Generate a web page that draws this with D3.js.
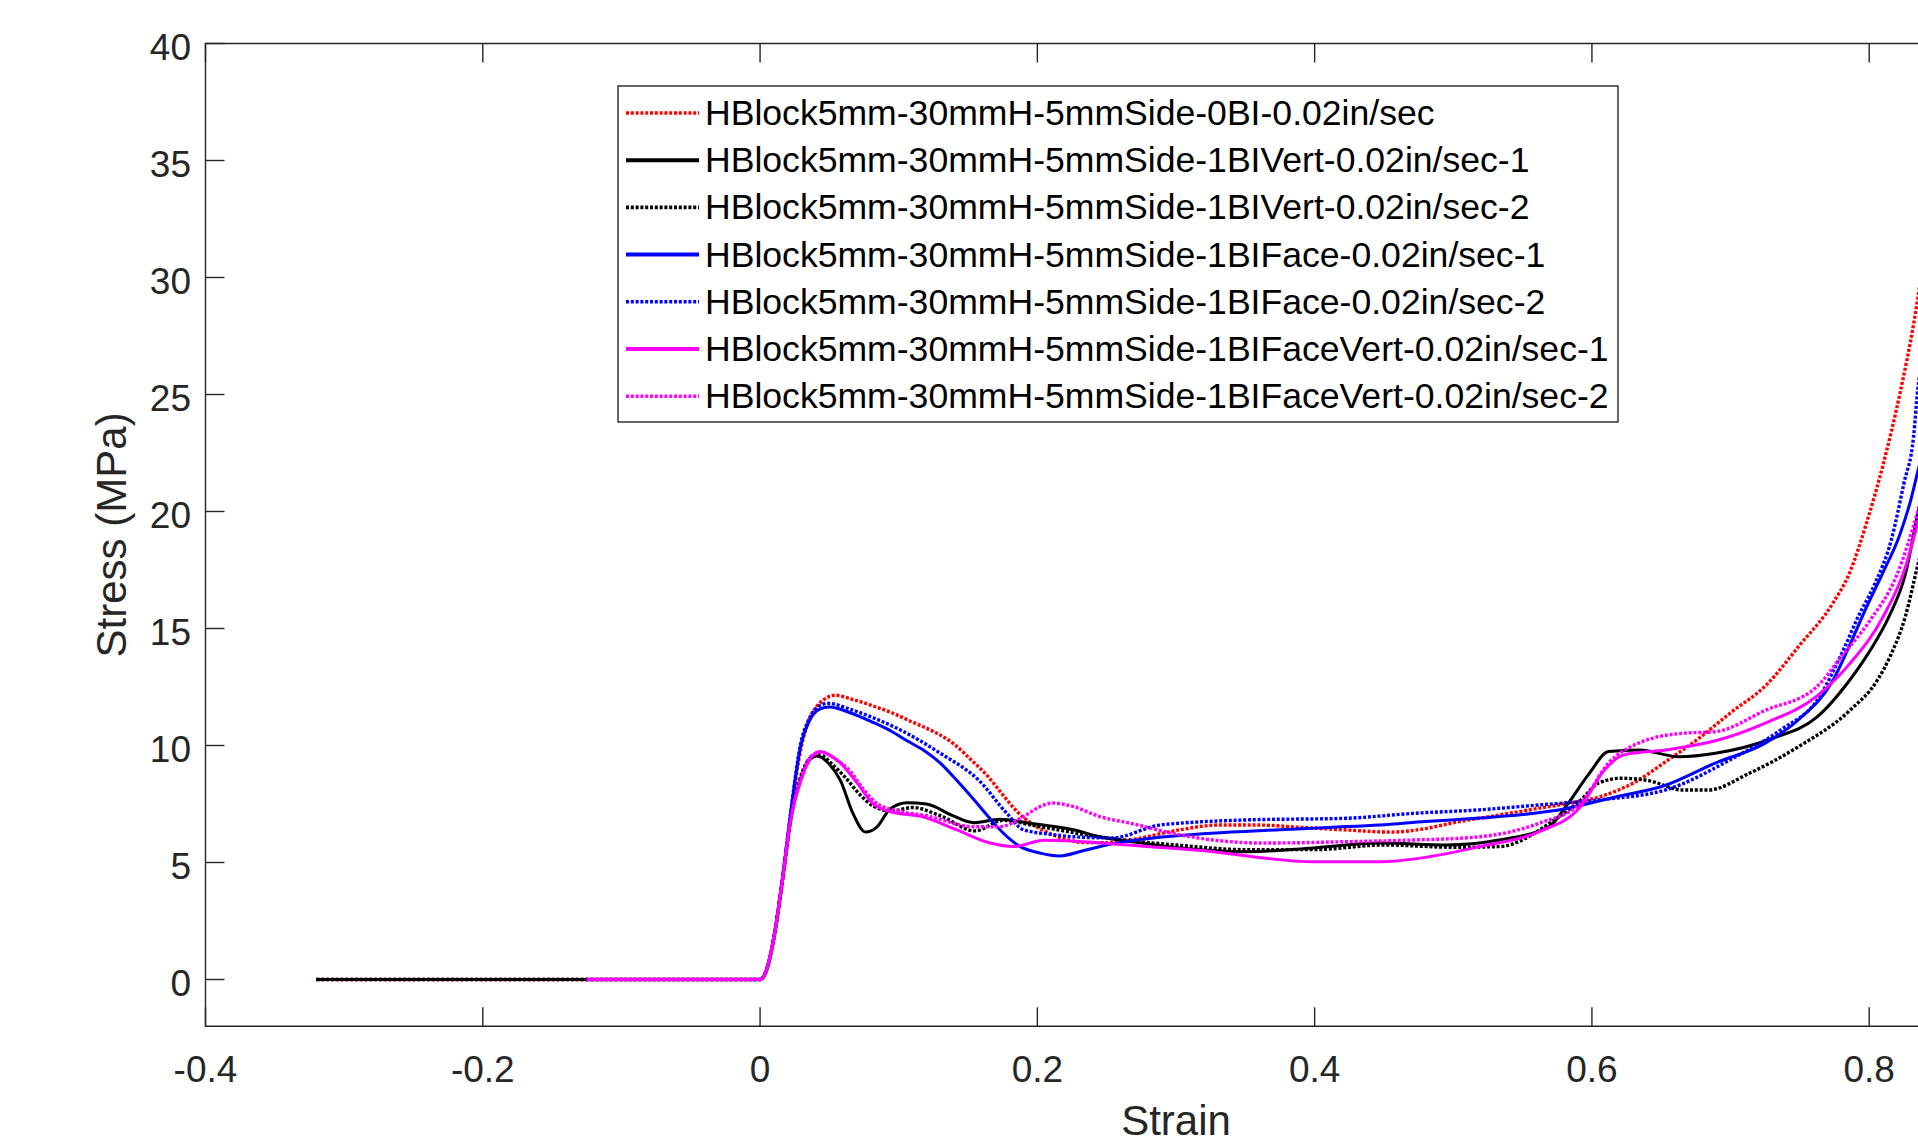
<!DOCTYPE html>
<meta charset="utf-8">
<style>
body { margin: 0; background: #fff; }
svg { display: block; }
.axis-line { stroke: #262626; stroke-width: 1.4px; fill: none; }
.tick-label { font-family: "Liberation Sans", Arial, sans-serif; font-size: 37px; fill: #262626; }
.axis-title { font-family: "Liberation Sans", Arial, sans-serif; font-size: 42px; fill: #262626; }
.legend-text { font-family: "Liberation Sans", Arial, sans-serif; font-size: 35.6px; fill: #000; }
</style>
<svg width="1918" height="1143"></svg>
<script src="https://d3js.org/d3.v7.min.js"></script>
<script>
// series names / styles (legend order = draw order)
var seriesNames = [
  "HBlock5mm-30mmH-5mmSide-0BI-0.02in/sec",
  "HBlock5mm-30mmH-5mmSide-1BIVert-0.02in/sec-1",
  "HBlock5mm-30mmH-5mmSide-1BIVert-0.02in/sec-2",
  "HBlock5mm-30mmH-5mmSide-1BIFace-0.02in/sec-1",
  "HBlock5mm-30mmH-5mmSide-1BIFace-0.02in/sec-2",
  "HBlock5mm-30mmH-5mmSide-1BIFaceVert-0.02in/sec-1",
  "HBlock5mm-30mmH-5mmSide-1BIFaceVert-0.02in/sec-2"
];
var seriesColors = ["#ff0000", "#000000", "#000000", "#0000ff", "#0000ff", "#ff00ff", "#ff00ff"];
var seriesDotted = [true, false, true, false, true, false, true];

// [strain, stress (MPa)]
var noBI = [[-0.32,0],[-0.2,0],[0,0],[0.004,0.3],[0.01,1.8],[0.016,4.1],[0.022,6.9],[0.028,9.4],[0.034,10.9],[0.04,11.6],[0.047,12.0],[0.054,12.15],[0.065,12.0],[0.081,11.7],[0.095,11.4],[0.11,11.0],[0.125,10.6],[0.139,10.1],[0.152,9.4],[0.164,8.7],[0.175,7.9],[0.185,7.2],[0.195,6.7],[0.205,6.35],[0.22,6.0],[0.235,5.85],[0.25,5.85],[0.27,6.0],[0.303,6.4],[0.33,6.6],[0.36,6.6],[0.39,6.5],[0.42,6.4],[0.455,6.3],[0.48,6.45],[0.5,6.7],[0.53,7.0],[0.56,7.3],[0.58,7.5],[0.605,7.8],[0.63,8.4],[0.653,9.3],[0.677,10.3],[0.7,11.4],[0.726,12.6],[0.75,14.3],[0.774,16.1],[0.786,17.4],[0.798,19.5],[0.81,22.0],[0.822,25.0],[0.832,28.0],[0.84,31],[0.85,34.5]];
var vert1 = [[-0.32,0],[-0.2,0],[0,0],[0.004,0.3],[0.01,1.8],[0.016,4.2],[0.022,6.8],[0.03,8.7],[0.036,9.4],[0.041,9.55],[0.05,9.2],[0.058,8.5],[0.067,7.1],[0.076,6.3],[0.084,6.5],[0.094,7.3],[0.106,7.55],[0.12,7.5],[0.139,7.0],[0.154,6.7],[0.173,6.85],[0.192,6.7],[0.226,6.4],[0.245,6.1],[0.267,5.9],[0.303,5.62],[0.351,5.46],[0.399,5.62],[0.447,5.83],[0.495,5.75],[0.533,5.96],[0.569,6.53],[0.583,7.54],[0.598,8.8],[0.612,9.74],[0.634,9.81],[0.663,9.52],[0.689,9.67],[0.73,10.3],[0.762,11.2],[0.786,12.8],[0.8,14.0],[0.815,15.6],[0.826,17.3],[0.835,19.9],[0.85,24]];
var vert2 = [[-0.32,0],[-0.2,0],[0,0],[0.004,0.3],[0.01,1.8],[0.016,4.2],[0.022,6.8],[0.03,8.8],[0.037,9.5],[0.043,9.6],[0.052,9.2],[0.062,8.6],[0.072,7.9],[0.082,7.4],[0.095,7.2],[0.11,7.35],[0.13,7.0],[0.155,6.35],[0.175,6.8],[0.2,6.55],[0.25,6.05],[0.3,5.75],[0.35,5.55],[0.4,5.55],[0.45,5.75],[0.5,5.65],[0.533,5.68],[0.573,6.82],[0.592,7.67],[0.605,8.4],[0.621,8.6],[0.641,8.5],[0.665,8.1],[0.684,8.1],[0.713,8.8],[0.749,9.95],[0.786,11.5],[0.806,12.8],[0.815,13.8],[0.826,15.5],[0.835,17.7],[0.85,21]];
var face1 = [[-0.125,0],[0,0],[0.004,0.3],[0.01,1.8],[0.016,4.25],[0.022,7.1],[0.029,9.9],[0.036,11.1],[0.043,11.55],[0.05,11.65],[0.065,11.4],[0.081,11.0],[0.095,10.6],[0.106,10.2],[0.118,9.8],[0.13,9.25],[0.142,8.5],[0.154,7.7],[0.164,7.0],[0.173,6.4],[0.187,5.7],[0.202,5.4],[0.216,5.28],[0.233,5.5],[0.25,5.75],[0.27,5.95],[0.303,6.15],[0.34,6.3],[0.375,6.4],[0.41,6.5],[0.447,6.6],[0.48,6.75],[0.519,6.9],[0.55,7.05],[0.581,7.3],[0.617,7.8],[0.653,8.3],[0.689,9.25],[0.725,10.1],[0.749,11.1],[0.774,12.8],[0.786,14.3],[0.798,15.9],[0.81,17.4],[0.822,19.0],[0.83,20.5],[0.835,21.7],[0.85,25]];
var face2 = [[-0.125,0],[0,0],[0.004,0.3],[0.01,1.8],[0.016,4.25],[0.022,7.1],[0.029,10.0],[0.036,11.2],[0.043,11.7],[0.049,11.8],[0.065,11.55],[0.081,11.2],[0.1,10.7],[0.13,9.67],[0.158,8.5],[0.178,7.1],[0.19,6.4],[0.21,6.2],[0.226,6.1],[0.254,6.05],[0.288,6.6],[0.303,6.68],[0.351,6.82],[0.423,6.89],[0.471,7.1],[0.519,7.25],[0.562,7.46],[0.6,7.65],[0.653,8.1],[0.7,9.4],[0.737,10.7],[0.762,11.9],[0.783,14.3],[0.792,15.5],[0.804,16.9],[0.816,18.8],[0.825,21.2],[0.832,23.2],[0.835,25.2],[0.85,29]];
var faceVert1 = [[-0.125,0],[0,0],[0.004,0.3],[0.01,1.8],[0.016,4.2],[0.022,6.8],[0.03,8.6],[0.037,9.5],[0.043,9.74],[0.05,9.6],[0.058,9.25],[0.07,8.4],[0.081,7.54],[0.094,7.17],[0.117,6.96],[0.142,6.39],[0.166,5.83],[0.183,5.68],[0.205,5.95],[0.23,5.9],[0.279,5.68],[0.327,5.46],[0.363,5.19],[0.399,5.03],[0.447,5.03],[0.483,5.25],[0.519,5.68],[0.562,6.32],[0.592,7.4],[0.609,8.95],[0.623,9.6],[0.653,9.81],[0.689,10.2],[0.725,10.96],[0.762,12.1],[0.786,13.5],[0.81,15.5],[0.826,17.6],[0.835,19.5],[0.85,23]];
var faceVert2 = [[-0.125,0],[0,0],[0.004,0.3],[0.01,1.8],[0.016,4.2],[0.022,6.8],[0.03,8.7],[0.037,9.55],[0.044,9.7],[0.055,9.4],[0.065,8.9],[0.075,8.1],[0.085,7.5],[0.1,7.2],[0.12,7.0],[0.154,6.53],[0.173,6.53],[0.19,6.96],[0.202,7.39],[0.211,7.54],[0.226,7.39],[0.245,6.96],[0.267,6.68],[0.303,6.18],[0.327,5.96],[0.363,5.83],[0.423,5.89],[0.471,5.96],[0.519,6.1],[0.562,6.68],[0.592,7.54],[0.612,9.25],[0.636,10.16],[0.665,10.52],[0.689,10.59],[0.725,11.5],[0.762,12.5],[0.78,13.8],[0.8,15.3],[0.82,17.3],[0.835,20],[0.85,23.5]];
var seriesData = [noBI, vert1, vert2, face1, face2, faceVert1, faceVert2];

var xTicks = [-0.4, -0.2, 0, 0.2, 0.4, 0.6, 0.8, 1];
var yTicks = [0, 5, 10, 15, 20, 25, 30, 35, 40];

var svg = d3.select("svg");
var plotLeft = 205.5, plotTop = 43.5, plotRight = 2146.5, plotBottom = 1026.3;

var x = d3.scaleLinear().domain([-0.4, 1.0]).range([plotLeft, plotRight]);
var y = d3.scaleLinear().domain([-2, 40]).range([plotBottom, plotTop]);

svg.append("clipPath").attr("id", "plot-clip")
  .append("rect").attr("x", plotLeft).attr("y", plotTop)
  .attr("width", plotRight - plotLeft).attr("height", plotBottom - plotTop);

// curves
var line = d3.line()
    .x(function(d) { return x(d[0]); })
    .y(function(d) { return y(d[1]); })
    .curve(d3.curveMonotoneX);

svg.append("g").attr("clip-path", "url(#plot-clip)")
  .selectAll("path")
  .data(seriesData)
  .enter().append("path")
    .attr("d", line)
    .attr("fill", "none")
    .attr("stroke", function(d, i) { return seriesColors[i]; })
    .attr("stroke-width", function(d, i) { return seriesDotted[i] ? 3.4 : 3; })
    .attr("stroke-dasharray", function(d, i) { return seriesDotted[i] ? "3,1.8" : null; })
    .attr("stroke-linejoin", "round");

// box with inward ticks (left, bottom, top)
svg.append("path").attr("class", "axis-line")
  .attr("d", "M" + plotRight + "," + plotTop + "H" + plotLeft + "V" + plotBottom + "H" + plotRight);

var tickLen = 19;
var g = svg.append("g");
g.selectAll(".xt-b").data(xTicks).enter().append("line").attr("class", "axis-line")
  .attr("x1", function(d) { return x(d); }).attr("x2", function(d) { return x(d); })
  .attr("y1", plotBottom).attr("y2", plotBottom - tickLen);
g.selectAll(".xt-t").data(xTicks).enter().append("line").attr("class", "axis-line")
  .attr("x1", function(d) { return x(d); }).attr("x2", function(d) { return x(d); })
  .attr("y1", plotTop).attr("y2", plotTop + tickLen);
g.selectAll(".yt").data(yTicks).enter().append("line").attr("class", "axis-line")
  .attr("x1", plotLeft).attr("x2", plotLeft + tickLen)
  .attr("y1", function(d) { return y(d); }).attr("y2", function(d) { return y(d); });

// tick labels
svg.selectAll(".xl").data(xTicks).enter().append("text")
  .attr("class", "tick-label")
  .attr("x", function(d) { return x(d); })
  .attr("y", 1082)
  .attr("text-anchor", "middle")
  .text(function(d) { return String(d); });

svg.selectAll(".yl").data(yTicks).enter().append("text")
  .attr("class", "tick-label")
  .attr("x", 191)
  .attr("y", function(d) { return y(d) + 16; })
  .attr("text-anchor", "end")
  .text(function(d) { return d; });

svg.append("text").attr("class", "axis-title")
  .attr("x", (plotLeft + plotRight) / 2).attr("y", 1135)
  .attr("text-anchor", "middle").text("Strain");

svg.append("text").attr("class", "axis-title")
  .attr("transform", "translate(126," + ((plotTop + plotBottom) / 2) + ") rotate(-90)")
  .attr("text-anchor", "middle").text("Stress (MPa)");

// legend
var lg = svg.append("g");
lg.append("rect")
  .attr("x", 618).attr("y", 86).attr("width", 1000).attr("height", 336)
  .attr("fill", "#fff").attr("stroke", "#262626").attr("stroke-width", 1.4);

var rows = lg.selectAll(".row").data(seriesNames).enter().append("g")
  .attr("transform", function(d, i) { return "translate(0," + (113 + i * 47.2) + ")"; });

rows.append("line")
  .attr("x1", 626).attr("x2", 699).attr("y1", 0).attr("y2", 0)
  .attr("stroke", function(d, i) { return seriesColors[i]; })
  .attr("stroke-width", function(d, i) { return seriesDotted[i] ? 3.6 : 4; })
  .attr("stroke-dasharray", function(d, i) { return seriesDotted[i] ? "3,1.8" : null; });

rows.append("text")
  .attr("class", "legend-text")
  .attr("x", 705).attr("y", 12)
  .text(function(d) { return d; });
</script>
